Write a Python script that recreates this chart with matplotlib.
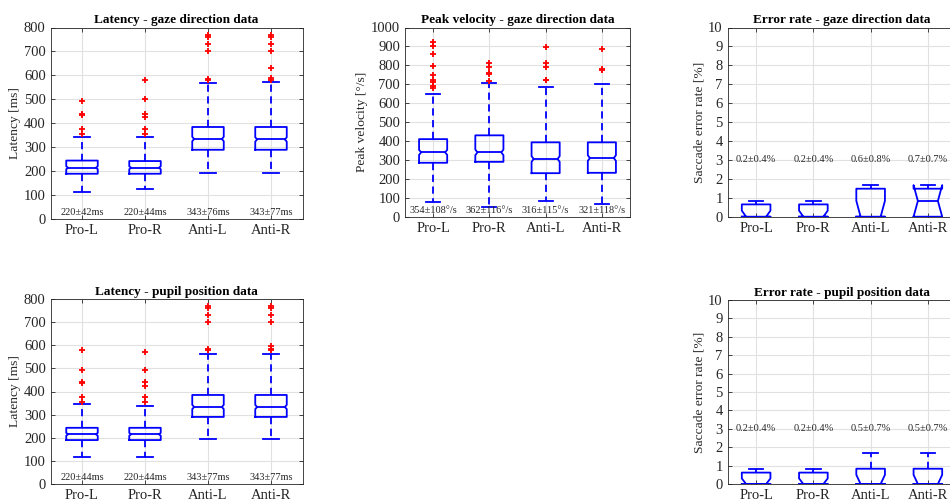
import numpy as np
import matplotlib.pyplot as plt

plt.rcParams['font.family'] = ['Liberation Serif', 'DejaVu Serif']

groups = ['Pro-L', 'Pro-R', 'Anti-L', 'Anti-R']

# latency - gaze direction
lat_gaze_lo = [115, 125, 193, 193]
lat_gaze_q1 = [190, 190, 290, 290]
lat_gaze_med = [215, 215, 335, 333]
lat_gaze_q3 = [245, 243, 385, 385]
lat_gaze_hi = [345, 342, 570, 573]
lat_gaze_cilo = [209, 209, 326, 324]
lat_gaze_cihi = [221, 221, 344, 342]
lat_gaze_fliers = [[355, 375, 435, 440, 495],
                   [355, 375, 425, 440, 503, 580],
                   [580, 585, 700, 730, 762, 768],
                   [580, 590, 630, 700, 730, 762, 768]]
lat_gaze_txt = ['220±42ms', '220±44ms', '343±76ms', '343±77ms']

# peak velocity - gaze direction
vel_lo = [80, 50, 85, 65]
vel_q1 = [285, 290, 230, 232]
vel_med = [340, 340, 305, 310]
vel_q3 = [410, 430, 393, 393]
vel_hi = [650, 707, 683, 703]
vel_cilo = [327, 325, 290, 295]
vel_cihi = [353, 355, 320, 325]
vel_fliers = [[680, 690, 710, 725, 750, 795, 860, 900, 925],
              [715, 755, 760, 790, 810],
              [720, 725, 790, 810, 895],
              [775, 780, 885]]
vel_txt = ['354±108°/s', '362±116°/s', '316±115°/s', '321±118°/s']

# error rate - gaze direction
err_gaze_lo = [0, 0, 0, 0]
err_gaze_q1 = [0, 0, 0, 0]
err_gaze_med = [0, 0, 0, 0.83]
err_gaze_q3 = [0.65, 0.65, 1.48, 1.48]
err_gaze_hi = [0.83, 0.83, 1.67, 1.67]
err_gaze_cilo = [0, 0, 0, 0]
err_gaze_cihi = [0.32, 0.32, 0.84, 1.67]
err_gaze_txt = ['0.2±0.4%', '0.2±0.4%', '0.6±0.8%', '0.7±0.7%']

# latency - pupil position
lat_pup_lo = [115, 115, 193, 193]
lat_pup_q1 = [190, 190, 290, 290]
lat_pup_med = [215, 215, 333, 333]
lat_pup_q3 = [243, 243, 385, 385]
lat_pup_hi = [345, 337, 562, 562]
lat_pup_cilo = [209, 209, 324, 324]
lat_pup_cihi = [221, 221, 342, 342]
lat_pup_fliers = [[355, 375, 435, 440, 495, 580],
                  [355, 375, 425, 440, 495, 572],
                  [580, 585, 700, 730, 762, 768],
                  [578, 585, 595, 700, 730, 762, 768]]
lat_pup_txt = ['220±44ms', '220±44ms', '343±77ms', '343±77ms']

# error rate - pupil position
err_pup_lo = [0, 0, 0, 0]
err_pup_q1 = [0, 0, 0, 0]
err_pup_med = [0, 0, 0, 0]
err_pup_q3 = [0.62, 0.62, 0.83, 0.83]
err_pup_hi = [0.82, 0.82, 1.67, 1.67]
err_pup_cilo = [0, 0, 0, 0]
err_pup_cihi = [0.3, 0.3, 0.5, 0.5]
err_pup_txt = ['0.2±0.4%', '0.2±0.4%', '0.5±0.7%', '0.5±0.7%']


def make_stats(lo, q1, med, q3, hi, cilo, cihi, fliers=None):
    stats = []
    for i in range(len(groups)):
        stats.append(dict(whislo=lo[i], q1=q1[i], med=med[i], q3=q3[i],
                          whishi=hi[i], cilo=cilo[i], cihi=cihi[i],
                          fliers=fliers[i] if fliers else [], label=groups[i]))
    return stats


def draw_panel(rect, stats, title, ylabel, ymax, ystep, texts, text_y, inset):
    ax = fig.add_axes(rect)
    blue = '#0000ff'
    bw = 0.5
    parts = ax.bxp(stats, positions=range(1, 5), widths=bw, shownotches=True,
                   capwidths=0.25,
                   boxprops=dict(color=blue, linewidth=1.3),
                   whiskerprops=dict(color=blue, linewidth=1.3,
                                     linestyle=(0, (4, 2.5))),
                   capprops=dict(color=blue, linewidth=1.3),
                   medianprops=dict(color=blue, linewidth=1.3),
                   flierprops=dict(marker='+', markeredgecolor='red',
                                   markersize=4.5, markeredgewidth=1.3,
                                   linestyle='none'))
    # shallower notches, like MATLAB
    for k, (box, med) in enumerate(zip(parts['boxes'], parts['medians'])):
        pos = k + 1
        half = bw / 2 * (1 - inset)
        x = np.array(box.get_xdata(), dtype=float)
        x[3] = pos + half
        x[8] = pos - half
        box.set_xdata(x)
        med.set_xdata([pos - half, pos + half])
    ax.set_xlim(0.5, 4.5)
    ax.set_ylim(0, ymax)
    ax.set_yticks(np.arange(0, ymax + ystep / 2, ystep))
    ax.set_xticks(range(1, 5))
    ax.set_xticklabels(groups)
    ax.grid(True, color='#e1e1e1', linewidth=0.8)
    ax.set_axisbelow(True)
    ax.tick_params(direction='in', top=True, right=True, length=3,
                   labelsize=10.5, colors='#262626', width=0.6)
    for s in ax.spines.values():
        s.set_color('#262626')
        s.set_linewidth(0.6)
    ax.set_title(title, fontsize=9.5, fontweight='bold', pad=3)
    ax.set_ylabel(ylabel, fontsize=9.7, color='#262626', labelpad=2)
    for i, t in enumerate(texts):
        ax.text(i + 1, text_y, t, ha='center', va='center', fontsize=7.5,
                color='#262626')
    return ax


fig = plt.figure(figsize=(9.5, 5.01), dpi=100)
H = 501.0
W = 950.0


def rect(l, r, t, b):
    return [l / W, 1 - b / H, (r - l) / W, (b - t) / H]


draw_panel(rect(50.5, 302.5, 27.5, 219.3),
           make_stats(lat_gaze_lo, lat_gaze_q1, lat_gaze_med, lat_gaze_q3,
                      lat_gaze_hi, lat_gaze_cilo, lat_gaze_cihi, lat_gaze_fliers),
           'Latency - gaze direction data', 'Latency [ms]', 800, 100,
           lat_gaze_txt, 30, 0.12)

draw_panel(rect(405, 630, 27.5, 216.7),
           make_stats(vel_lo, vel_q1, vel_med, vel_q3, vel_hi,
                      vel_cilo, vel_cihi, vel_fliers),
           'Peak velocity - gaze direction data', 'Peak velocity [°/s]', 1000, 100,
           vel_txt, 32, 0.15)

draw_panel(rect(727.5, 956.5, 27.5, 216.7),
           make_stats(err_gaze_lo, err_gaze_q1, err_gaze_med, err_gaze_q3,
                      err_gaze_hi, err_gaze_cilo, err_gaze_cihi),
           'Error rate - gaze direction data', 'Saccade error rate [%]', 10, 1,
           err_gaze_txt, 3, 0.3)

draw_panel(rect(50.5, 302.5, 299, 484),
           make_stats(lat_pup_lo, lat_pup_q1, lat_pup_med, lat_pup_q3,
                      lat_pup_hi, lat_pup_cilo, lat_pup_cihi, lat_pup_fliers),
           'Latency - pupil position data', 'Latency [ms]', 800, 100,
           lat_pup_txt, 30, 0.12)

draw_panel(rect(727.5, 956.5, 300, 484),
           make_stats(err_pup_lo, err_pup_q1, err_pup_med, err_pup_q3,
                      err_pup_hi, err_pup_cilo, err_pup_cihi),
           'Error rate - pupil position data', 'Saccade error rate [%]', 10, 1,
           err_pup_txt, 3, 0.3)

fig.savefig('out.png', dpi=100)
